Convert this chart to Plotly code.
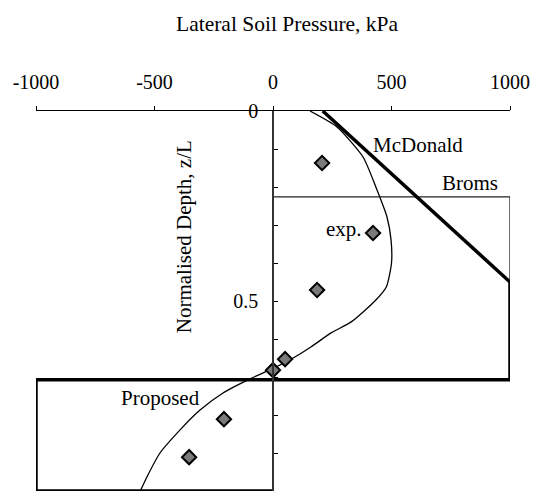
import plotly.graph_objects as go

# Fitted lateral pressure profile (kPa) against normalised depth z/L
curve_depth = [0.0, 0.042, 0.121, 0.208, 0.279, 0.339, 0.400, 0.463, 0.50,
               0.555, 0.584, 0.621, 0.650, 0.676, 0.705, 0.742, 0.787, 0.839,
               0.900, 0.963, 1.0]
curve_pressure = [156, 270, 380, 439, 481, 498, 500, 478, 430,
                  330, 245, 160, 85, 5, -97, -211, -308, -392,
                  -477, -532, -560]

# Measured points
exp_depth = [0.137, 0.321, 0.471, 0.653, 0.682, 0.811, 0.911]
exp_pressure = [207, 422, 186, 51, 0, -207, -354]

# McDonald distribution
mcd_depth = [0.0, 0.45]
mcd_pressure = [210, 1000]

# Broms distribution
broms_depth = [0.226, 0.226, 0.707]
broms_pressure = [0, 1000, 1000]

# Proposed distribution
prop_depth = [0.45, 0.707, 0.707, 1.0, 1.0]
prop_pressure = [1000, 1000, -1000, -1000, 0]

x_ticks = [-1000, -500, 0, 500, 1000]
y_ticks = [0, 0.5, 1]
y_tick_text = ["0", "0.5", "1"]

FONT = "Liberation Serif, Times New Roman, serif"

fig = go.Figure()

fig.add_trace(go.Scatter(x=broms_pressure, y=broms_depth, mode="lines",
                         line=dict(color="#222222", width=1.3),
                         showlegend=False, cliponaxis=False))
fig.add_trace(go.Scatter(x=prop_pressure, y=prop_depth, mode="lines",
                         line=dict(color="black", width=3.5),
                         showlegend=False, cliponaxis=False))
fig.add_trace(go.Scatter(x=mcd_pressure, y=mcd_depth, mode="lines",
                         line=dict(color="black", width=3.5),
                         showlegend=False, cliponaxis=False))
fig.add_trace(go.Scatter(x=curve_pressure, y=curve_depth, mode="lines",
                         line=dict(color="black", width=1.3, shape="spline", smoothing=0.6),
                         showlegend=False, cliponaxis=False))
fig.add_trace(go.Scatter(x=exp_pressure, y=exp_depth, mode="markers",
                         marker=dict(symbol="diamond", size=11, color="#7a7a7a",
                                     line=dict(color="black", width=2)),
                         showlegend=False, cliponaxis=False))

labels = [
    ("McDonald", 610, 0.089),
    ("Broms", 830, 0.189),
    ("exp.", 300, 0.310),
    ("Proposed", -475, 0.755),
]
for text, x, y in labels:
    fig.add_annotation(x=x, y=y, xref="x", yref="y", text=text, showarrow=False,
                       xanchor="center", yanchor="middle",
                       font=dict(family=FONT, size=21, color="black"))

fig.add_annotation(x=0.53, y=1.23, xref="paper", yref="paper",
                   text="Lateral Soil Pressure, kPa", showarrow=False,
                   xanchor="center", yanchor="middle",
                   font=dict(family=FONT, size=21.5, color="black"))
fig.add_annotation(x=0.314, y=0.67, xref="paper", yref="paper",
                   text="Normalised Depth, z/L", showarrow=False, textangle=-90,
                   xanchor="center", yanchor="middle",
                   font=dict(family=FONT, size=21, color="black"))

fig.update_layout(
    width=539, height=493,
    margin=dict(l=36, r=29, t=111, b=2),
    paper_bgcolor="white", plot_bgcolor="white",
    font=dict(family=FONT, size=20, color="black"),
    xaxis=dict(range=[-1000, 1000], side="top", showgrid=False, zeroline=False,
               showline=True, linecolor="black", linewidth=1,
               ticks="outside", ticklen=4, tickcolor="black",
               tickvals=x_ticks, ticktext=[str(v) for v in x_ticks],
               ticklabelstandoff=9),
    yaxis=dict(range=[1, 0], anchor="free", position=0.5, showgrid=False,
               zeroline=False, showline=True, linecolor="#333333", linewidth=1.5,
               ticks="inside", ticklen=4, tickcolor="black",
               tickvals=y_ticks, ticktext=y_tick_text, ticklabelstandoff=10,
               minor=dict(dtick=0.1, ticks="inside", ticklen=4, tickcolor="black")),
)

fig.write_html("out.html")
